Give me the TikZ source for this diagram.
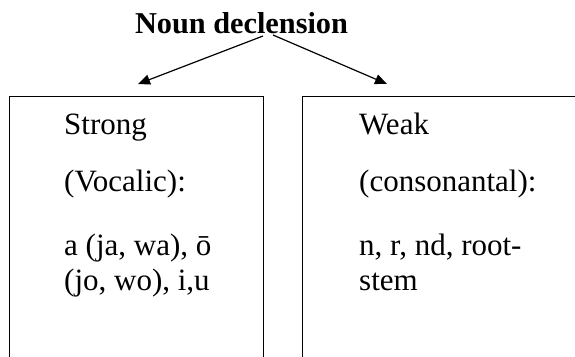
\documentclass[tikz,border=0pt]{standalone}
\usepackage{fontspec}
\setmainfont{Liberation Serif}
\usetikzlibrary{arrows.meta}
\begin{document}
\begin{tikzpicture}[x=1pt,y=-1pt,
  box/.style={draw=black,line width=1.3pt,anchor=north west,inner sep=0pt},
  txt/.style={anchor=base west,inner sep=0pt,font=\fontsize{31}{36}\selectfont},
  arr/.style={line width=1.2pt,-{Triangle[length=12pt,width=10pt]}}]
\useasboundingbox (0,0) rectangle (575,356);
\begin{scope}
\clip (0,0) rectangle (575,356);
\node[box,minimum width=254pt,minimum height=300pt] (strongbox) at (9,96) {};
\node[box,minimum width=300pt,minimum height=300pt] (weakbox) at (302,96) {};
\end{scope}
\node[anchor=base,inner sep=0pt,font=\fontsize{30.3}{36}\selectfont\bfseries] (title) at (241.5,33) {Noun declension};
\coordinate (s1) at (263,36);
\coordinate (s2) at (273,35);
\coordinate (e1) at (138,84);
\coordinate (e2) at (387,84);
\draw[arr] (s1) -- (e1);
\draw[arr] (s2) -- (e2);
\node[txt] (strong) at (64,134) {Strong};
\node[txt] (vocalic) at (64,191) {(Vocalic):};
\node[txt] (vlista) at (64,255) {a (ja, wa), ō};
\node[txt] (vlistb) at (64,290) {(jo, wo), i,u};
\node[txt] (weak) at (359,134) {Weak};
\node[txt] (cons) at (359,191) {(consonantal):};
\node[txt] (clista) at (359,255) {n, r, nd, root-};
\node[txt] (clistb) at (359,290) {stem};
\end{tikzpicture}
\end{document}
